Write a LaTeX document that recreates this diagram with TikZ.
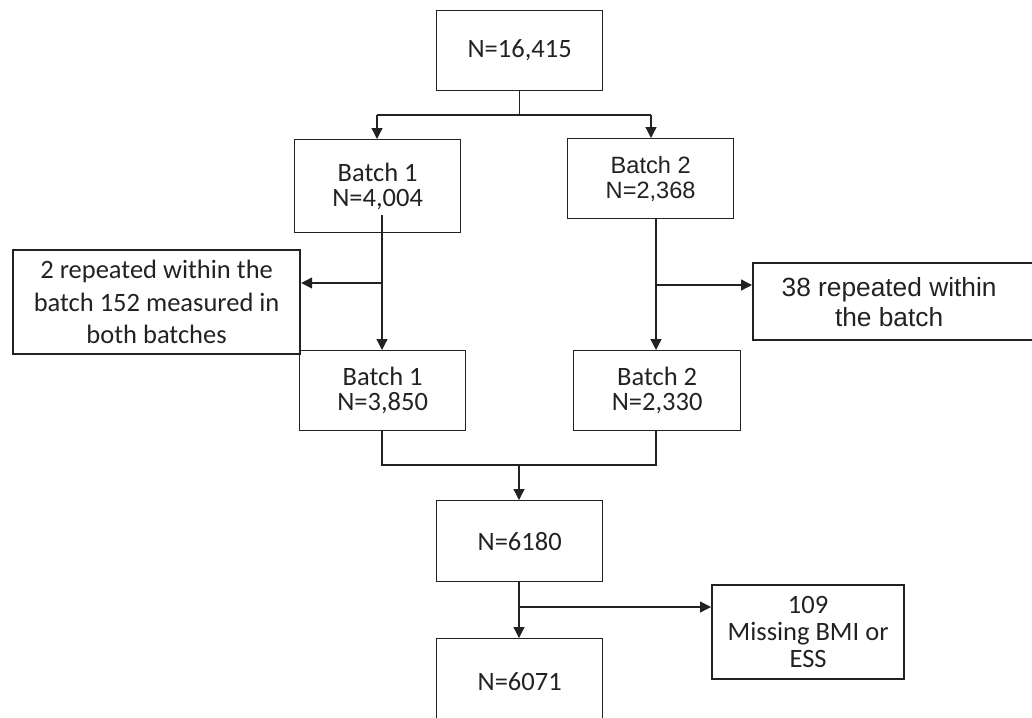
\documentclass[tikz,border=0pt]{standalone}
\usepackage{fontspec}
\setmainfont{Carlito}
\newfontfamily\arialf{Liberation Sans}
\usetikzlibrary{arrows.meta}
\definecolor{ink}{HTML}{222222}
\tikzset{
  box/.style={draw=ink, line width=1.3pt, inner sep=0pt, anchor=north west, align=center, text=ink, font=\fontsize{26.5}{25}\selectfont},
  sidebox/.style={box, line width=2.2pt},
  conn/.style={draw=ink, line width=1.3pt},
  arr/.style={conn, -{Triangle[length=11pt,width=11pt]}}
}
\begin{document}
\begin{tikzpicture}[x=1pt,y=-1pt]
\useasboundingbox (0,0) rectangle (1032,717);
\clip (0,0) rectangle (1032,717);
\node[box, minimum width=166pt, minimum height=80pt] (n0) at (436,10) {N=16,415};
\node[box, minimum width=166pt, minimum height=93pt] (b1) at (294,139) {\raisebox{-4pt}{\parbox{150pt}{\centering Batch 1\\N=4,004}}};
\node[box, minimum width=166pt, minimum height=80pt, font=\arialf\fontsize{23.6}{25}\selectfont] (b2) at (567,138) {\raisebox{-2pt}{\parbox{150pt}{\centering Batch 2\\N=2,368}}};
\node[sidebox, minimum width=287pt, minimum height=104pt, font=\fontsize{26.5}{32.5}\selectfont] (ex1) at (12,249) {2 repeated within the\\batch 152 measured in\\both batches};
\node[sidebox, minimum width=290pt, minimum height=77pt, font=\arialf\fontsize{26.3}{30}\selectfont] (ex2) at (752,262) {\hspace*{-18pt}38 repeated within\\\hspace*{-18pt}the batch};
\node[box, minimum width=166pt, minimum height=80pt] (c1) at (299,350) {Batch 1\\N=3,850};
\node[box, minimum width=167pt, minimum height=80pt] (c2) at (573,350) {Batch 2\\N=2,330};
\node[box, minimum width=166pt, minimum height=81pt] (n1) at (436,500) {N=6180};
\node[sidebox, minimum width=192pt, minimum height=94pt, font=\fontsize{26.5}{27}\selectfont] (ex3) at (711,584) {109\\Missing BMI or\\ESS};
\node[box, minimum width=166pt, minimum height=86pt] (n2) at (436,638) {N=6071};
% top split
\coordinate (sL) at (377,115);
\coordinate (sR) at (651,115);
\draw[conn] (n0.south) -- (n0.south |- sL);
\draw[conn] (sL) -- (sR);
\draw[arr] (sL) -- (sL |- b1.north);
\draw[arr] (sR) -- (sR |- b2.north);
% batch 1
\coordinate (b1o) at (382,215);
\coordinate (j1) at (382,283);
\draw[arr] (b1o) -- (b1o |- c1.north);
\draw[arr] (j1) -- (j1 -| ex1.east);
% batch 2
\coordinate (j2) at (656,285);
\draw[arr] (j2 |- b2.south) -- (j2 |- c2.north);
\draw[arr] (j2) -- (j2 -| ex2.west);
% merge
\coordinate (mL) at (382,465);
\coordinate (mR) at (656,465);
\coordinate (m) at (519,465);
\draw[conn] (mL |- c1.south) -- (mL) -- (mR) -- (mR |- c2.south);
\draw[arr] (m) -- (m |- n1.north);
% bottom
\coordinate (j3) at (519,607);
\draw[arr] (n1.south -| j3) -- (j3 |- n2.north);
\draw[arr] (j3) -- (j3 -| ex3.west);
\end{tikzpicture}
\end{document}
